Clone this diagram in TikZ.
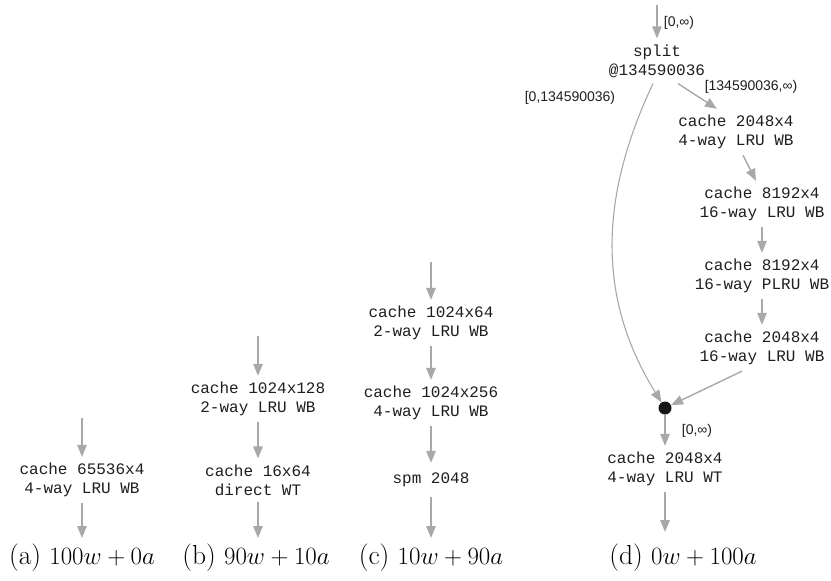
\documentclass[tikz,border=0pt]{standalone}
\usepackage{fontspec}
\setmonofont{Liberation Mono}
\setsansfont{Liberation Sans}
\usetikzlibrary{arrows.meta,calc}
\definecolor{arrgray}{HTML}{A8A8A8}
\definecolor{txt}{HTML}{1E1E1E}
\definecolor{dotc}{HTML}{161616}
\begin{document}
\begin{tikzpicture}[x=1pt,y=-1pt,
  conn/.style={draw=arrgray, line width=1.4pt, -{Triangle[length=12pt,width=9.5pt]}},
  box/.style={font=\ttfamily\fontsize{16}{19}\selectfont, align=center, inner xsep=2pt, inner ysep=6pt, text=txt},
  onebox/.style={box, inner ysep=10pt},
  lab/.style={font=\sffamily\fontsize{14}{16}\selectfont, inner sep=0pt, text=txt},
  capt/.style={font=\fontsize{27.5}{30}\selectfont, inner sep=0pt, anchor=base},
  dotst/.style={circle, fill=dotc, inner sep=0pt, minimum size=13pt}]
\useasboundingbox (0,0) rectangle (831,581);

% (a)
\coordinate (a0) at (82,418);
\node[box] (a1) at (82,480) {cache 65536x4\\4-way LRU WB};
\coordinate (aE) at (82,538);
\draw[conn] (a0) -- (a1);
\draw[conn] (a1) -- (aE);
\node[capt] (capa) at (82,564) {(a) $100w+0a$};

% (b)
\coordinate (b0) at (258,336);
\node[box] (b1) at (258,399) {cache 1024x128\\2-way LRU WB};
\node[box] (b2) at (258,480) {cache 16x64\\direct WT};
\coordinate (bE) at (258,538);
\draw[conn] (b0) -- (b1);
\draw[conn] (b1) -- (b2);
\draw[conn] (b2) -- (bE);
\node[capt] (capb) at (256,564) {(b) $90w+10a$};

% (c)
\coordinate (c0) at (431,262);
\node[box] (c1) at (431,323) {cache 1024x64\\2-way LRU WB};
\node[box] (c2) at (431,403) {cache 1024x256\\4-way LRU WB};
\node[onebox] (c3) at (431,480) {spm 2048};
\coordinate (cE) at (431,538);
\draw[conn] (c0) -- (c1);
\draw[conn] (c1) -- (c2);
\draw[conn] (c2) -- (c3);
\draw[conn] (c3) -- (cE);
\node[capt] (capc) at (431,564) {(c) $10w+90a$};

% (d)
\coordinate (d0) at (657,5);
\node[box] (split) at (657,61) {split\\@134590036};
\node[box] (d1) at (736,132) {cache 2048x4\\4-way LRU WB};
\node[box] (d2) at (762,204) {cache 8192x4\\16-way LRU WB};
\node[box] (d3) at (762,276) {cache 8192x4\\16-way PLRU WB};
\node[box] (d4) at (762,348) {cache 2048x4\\16-way LRU WB};
\node[dotst] (dot) at (665,408) {};
\node[box] (d5) at (665,469) {cache 2048x4\\4-way LRU WT};
\coordinate (dE) at (665,532);

\draw[conn] (d0) -- (split);
\draw[conn] ($(split.south)+(21,0)$) -- ($(d1.north)+(-19,0)$);
\draw[conn] ($(d1.south)+(7,0)$) -- ($(d2.north)+(-6,0)$);
\draw[conn] (d2) -- (d3);
\draw[conn] (d3) -- (d4);
\draw[conn] ($(d4.south)+(-20,0)$) -- (dot);
\draw[conn, line width=1.1pt] ($(split.south)+(-4,0)$) .. controls (598,200) and (598,300) .. (dot);
\draw[conn] (dot) -- (d5);
\draw[conn] (d5) -- (dE);

\node[lab] (l0) at (679,23) {[0,∞)};
\node[lab] (l1) at (751,87) {[134590036,∞)};
\node[lab] (l2) at (570,98) {[0,134590036)};
\node[lab] (l3) at (697,431) {[0,∞)};
\node[capt] (capd) at (683,564) {(d) $0w+100a$};
\end{tikzpicture}
\end{document}
